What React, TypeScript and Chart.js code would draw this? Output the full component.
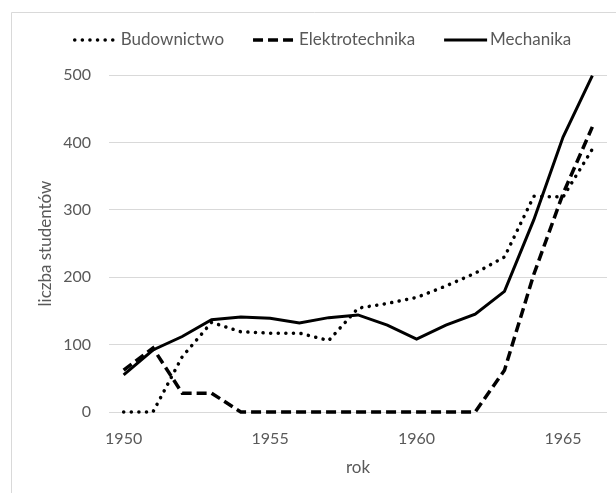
import React, { useEffect, useRef } from 'react';
import { Chart, registerables } from 'chart.js';

Chart.register(...registerables);

const years = ['1950', '1951', '1952', '1953', '1954', '1955', '1956', '1957', '1958', '1959', '1960', '1961', '1962', '1963', '1964', '1965', '1966'];
const xTickLabels = ['1950', '1955', '1960', '1965'];
const budownictwo = [0, 0, 82, 133, 119, 117, 117, 106, 154, 161, 170, 187, 206, 230, 320, 319, 390];
const elektrotechnika = [62, 95, 28, 28, 0, 0, 0, 0, 0, 0, 0, 0, 0, 62, 204, 324, 423];
const mechanika = [55, 92, 112, 137, 141, 139, 132, 140, 144, 129, 108, 129, 145, 179, 285, 408, 499];
const yMin = 0;
const yMax = 500;
const yStep = 100;

const FONT = 'Lato, "Noto Sans", sans-serif';
const TEXT = '#595959';
const GRID = '#d9d9d9';

const framePlugin = {
  id: 'frame',
  beforeDraw(chart: any) {
    const ctx = chart.ctx;
    ctx.save();
    ctx.fillStyle = '#ffffff';
    ctx.fillRect(0, 0, chart.width, chart.height);
    ctx.strokeStyle = GRID;
    ctx.lineWidth = 1;
    ctx.beginPath();
    ctx.moveTo(11.5, chart.height + 5);
    ctx.lineTo(11.5, 12.5);
    ctx.lineTo(chart.width + 5, 12.5);
    ctx.stroke();
    ctx.restore();
  },
};

const legendPlugin = {
  id: 'customLegend',
  afterDraw(chart: any) {
    const ctx = chart.ctx;
    ctx.save();
    ctx.font = `17px ${FONT}`;
    const items = chart.data.datasets.map((ds: any) => ({ ds, w: ctx.measureText(ds.label).width }));
    const sample = 45;
    const gap = 3;
    const itemGap = 27;
    const total = items.reduce((s: number, it: any) => s + sample + gap + it.w, 0) + itemGap * (items.length - 1);
    let x = 322 - total / 2;
    const y = 40;
    items.forEach(({ ds, w }: any) => {
      ctx.beginPath();
      ctx.strokeStyle = ds.borderColor;
      ctx.lineWidth = ds.borderWidth;
      ctx.lineCap = ds.borderCapStyle || 'butt';
      ctx.setLineDash(ds.borderDash || []);
      ctx.moveTo(x + 2, y);
      ctx.lineTo(x + sample, y);
      ctx.stroke();
      ctx.setLineDash([]);
      ctx.fillStyle = TEXT;
      ctx.textBaseline = 'middle';
      ctx.textAlign = 'left';
      ctx.fillText(ds.label, x + sample + gap, y);
      x += sample + gap + w + itemGap;
    });
    ctx.restore();
  },
};

export default function App() {
  const ref = useRef<HTMLCanvasElement | null>(null);

  useEffect(() => {
    document.body.style.margin = '0';
    if (!ref.current) return;
    const chart = new Chart(ref.current, {
      type: 'line',
      data: {
        labels: years,
        datasets: [
          {
            label: 'Budownictwo',
            data: budownictwo,
            borderColor: '#000000',
            borderWidth: 3.5,
            borderDash: [0.1, 7.5],
            borderCapStyle: 'round',
            pointRadius: 0,
            tension: 0,
            fill: false,
            clip: false,
          },
          {
            label: 'Elektrotechnika',
            data: elektrotechnika,
            borderColor: '#000000',
            borderWidth: 3.5,
            borderDash: [10, 5],
            borderCapStyle: 'butt',
            pointRadius: 0,
            tension: 0,
            fill: false,
            clip: false,
          },
          {
            label: 'Mechanika',
            data: mechanika,
            borderColor: '#000000',
            borderWidth: 3,
            borderCapStyle: 'butt',
            pointRadius: 0,
            tension: 0,
            fill: false,
            clip: false,
          },
        ],
      },
      options: {
        responsive: false,
        animation: false,
        devicePixelRatio: 1,
        layout: { padding: { top: 75, right: 9, bottom: 0, left: 0 } },
        plugins: {
          legend: { display: false },
          tooltip: { enabled: false },
        },
        scales: {
          x: {
            type: 'category',
            offset: true,
            grid: { display: false, drawTicks: false },
            border: { display: false },
            ticks: {
              autoSkip: false,
              maxRotation: 0,
              minRotation: 0,
              padding: 17,
              color: TEXT,
              font: { family: FONT, size: 16 },
              callback: (_v: any, idx: number) => (xTickLabels.includes(years[idx]) ? years[idx] : ''),
            },
            title: {
              display: true,
              text: 'rok',
              color: TEXT,
              font: { family: FONT, size: 17 },
              padding: { top: 0, bottom: 15 },
            },
            afterFit: (scale: any) => {
              scale.height = 81;
            },
          },
          y: {
            min: yMin,
            max: yMax,
            grid: { color: GRID, lineWidth: 1, drawTicks: false },
            border: { display: false },
            ticks: {
              stepSize: yStep,
              padding: 18,
              color: TEXT,
              font: { family: FONT, size: 16 },
            },
            title: {
              display: true,
              text: 'liczba studentów',
              color: TEXT,
              font: { family: FONT, size: 17 },
              padding: { top: 35, bottom: 0 },
            },
            afterFit: (scale: any) => {
              scale.width = 109;
            },
          },
        },
      },
      plugins: [framePlugin, legendPlugin],
    } as any);
    return () => chart.destroy();
  }, []);

  return (
    <div style={{ width: 616, height: 493, position: 'relative' }}>
      <canvas ref={ref} width={616} height={493} style={{ display: 'block' }} />
    </div>
  );
}
